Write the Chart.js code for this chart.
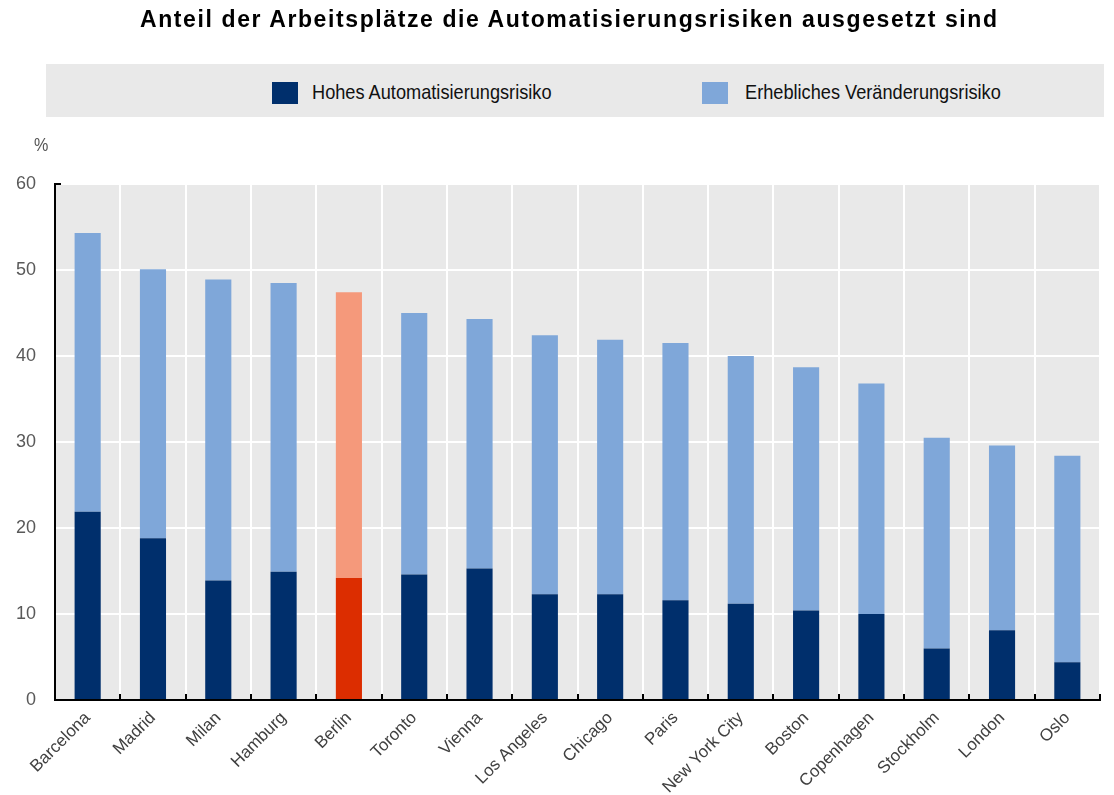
<!DOCTYPE html>
<html>
<head>
<meta charset="utf-8">
<script src="https://cdn.jsdelivr.net/npm/chart.js@4.4.1/dist/chart.umd.min.js"></script>
<style>
  html, body { margin: 0; padding: 0; background: #ffffff; }
  #wrap { position: relative; width: 1114px; height: 795px; overflow: hidden; }
  #title { position: absolute; left: 140px; top: 6px; white-space: nowrap; letter-spacing: 1.6px;
           font-family: "Liberation Sans", Arial, sans-serif; font-weight: bold; font-size: 23px; color: #000; }
  #legend { position: absolute; left: 46px; top: 64px; width: 1058px; height: 53px; background: #e9e9e9; }
  .lg-box { position: absolute; top: 18px; width: 26px; height: 22px; }
  .lg-txt { position: absolute; top: 15px; white-space: nowrap; font-family: "Liberation Sans", Arial, sans-serif;
            font-size: 21px; line-height: 26px; color: #111; transform: scaleX(0.866); transform-origin: 0 0; }
  #unit { position: absolute; left: 34px; top: 134px; font-family: "Liberation Sans", Arial, sans-serif;
          font-size: 19px; color: #555; transform: scaleX(0.85); transform-origin: 0 0; }
  canvas { position: absolute; left: 0; top: 0; }
</style>
</head>
<body>
<div id="wrap">
  <canvas id="c" width="1114" height="795"></canvas>
  <div id="title">Anteil der Arbeitsplätze die Automatisierungsrisiken ausgesetzt sind</div>
  <div id="legend"></div>
  <div id="unit">%</div>
</div>
<script>
// ---- Data ----
const categories = ["Barcelona", "Madrid", "Milan", "Hamburg", "Berlin", "Toronto", "Vienna", "Los Angeles",
  "Chicago", "Paris", "New York City", "Boston", "Copenhagen", "Stockholm", "London", "Oslo"];
const hohesAutomatisierungsrisiko = [21.9, 18.8, 13.9, 14.9, 14.2, 14.6, 15.3, 12.3, 12.3, 11.6, 11.2, 10.4, 10.0, 6.0, 8.1, 4.4];
const erheblichesVeraenderungsrisiko = [32.4, 31.3, 35.0, 33.6, 33.2, 30.4, 29.0, 30.1, 29.6, 29.9, 28.8, 28.3, 26.8, 24.5, 21.5, 24.0];
const seriesLabels = ["Hohes Automatisierungsrisiko", "Erhebliches Veränderungsrisiko"];
const yTickValues = [0, 10, 20, 30, 40, 50, 60];
const highlightCategory = "Berlin";

// ---- Styles ----
const darkBlue = "#002f6c", lightBlue = "#7fa7d9";
const darkRed = "#dc2d00", lightRed = "#f5997b";
const labelFont = '"Liberation Sans", Arial, sans-serif';

const darkColors = categories.map(c => c === highlightCategory ? darkRed : darkBlue);
const lightColors = categories.map(c => c === highlightCategory ? lightRed : lightBlue);

const plotBg = {
  id: 'plotBg',
  beforeDraw(chart) {
    const {ctx, chartArea: a} = chart;
    ctx.save();
    ctx.fillStyle = '#e9e9e9';
    ctx.fillRect(a.left, a.top, a.right - a.left, a.bottom - a.top);
    ctx.restore();
  }
};

const innerTicks = {
  id: 'innerTicks',
  afterDraw(chart) {
    const {ctx, chartArea: a} = chart;
    const xs = chart.scales.x, ys = chart.scales.y;
    const n = categories.length;
    ctx.save();
    ctx.strokeStyle = '#000';
    ctx.lineWidth = 2;
    ctx.beginPath();
    for (let i = 1; i <= n; i++) {
      let x;
      if (i < n) x = (xs.getPixelForValue(i - 1) + xs.getPixelForValue(i)) / 2;
      else x = xs.getPixelForValue(n - 1) + (xs.getPixelForValue(n - 1) - xs.getPixelForValue(n - 2)) / 2;
      x = Math.round(x);
      ctx.moveTo(x, a.bottom);
      ctx.lineTo(x, a.bottom - 6);
    }
    const yTop = Math.round(ys.getPixelForValue(yTickValues[yTickValues.length - 1]));
    ctx.moveTo(a.left, yTop);
    ctx.lineTo(a.left + 6, yTop);
    ctx.stroke();
    ctx.restore();
  }
};

const chart = new Chart(document.getElementById('c'), {
  type: 'bar',
  data: {
    labels: categories,
    datasets: [
      { label: seriesLabels[0], data: hohesAutomatisierungsrisiko, backgroundColor: darkColors, borderWidth: 0 },
      { label: seriesLabels[1], data: erheblichesVeraenderungsrisiko, backgroundColor: lightColors, borderWidth: 0 }
    ]
  },
  options: {
    responsive: false,
    animation: false,
    layout: { padding: { top: 184, right: 14, left: 0, bottom: 0 } },
    datasets: { bar: { categoryPercentage: 1.0, barPercentage: 0.4 } },
    plugins: { legend: { display: false }, title: { display: false }, tooltip: { enabled: false } },
    scales: {
      x: {
        stacked: true,
        offset: true,
        grid: { offset: true, color: '#ffffff', lineWidth: 2, drawTicks: false },
        border: { color: '#000000', width: 2 },
        ticks: { color: '#404040', font: { family: labelFont, size: 17 }, minRotation: 45, maxRotation: 45, padding: 8, autoSkip: false },
        afterFit(scale) { scale.height = 95; }
      },
      y: {
        stacked: true,
        min: 0, max: 60,
        afterBuildTicks(scale) { scale.ticks = yTickValues.map(v => ({ value: v })); },
        grid: { color: '#ffffff', lineWidth: 2, drawTicks: false },
        border: { color: '#000000', width: 2 },
        ticks: { color: '#595959', font: { family: labelFont, size: 18 }, padding: 19 },
        afterFit(scale) { scale.width = 55; }
      }
    }
  },
  plugins: [plotBg, innerTicks]
});

// HTML legend generated from chart datasets
const legendEl = document.getElementById('legend');
const legendPos = [{ box: 226, txt: 266 }, { box: 656, txt: 699 }];
chart.data.datasets.forEach((ds, i) => {
  const b = document.createElement('div');
  b.className = 'lg-box';
  b.style.left = legendPos[i].box + 'px';
  b.style.background = i === 0 ? darkBlue : lightBlue;
  const t = document.createElement('div');
  t.className = 'lg-txt';
  t.style.left = legendPos[i].txt + 'px';
  t.textContent = ds.label;
  legendEl.appendChild(b);
  legendEl.appendChild(t);
});
</script>
</body>
</html>
